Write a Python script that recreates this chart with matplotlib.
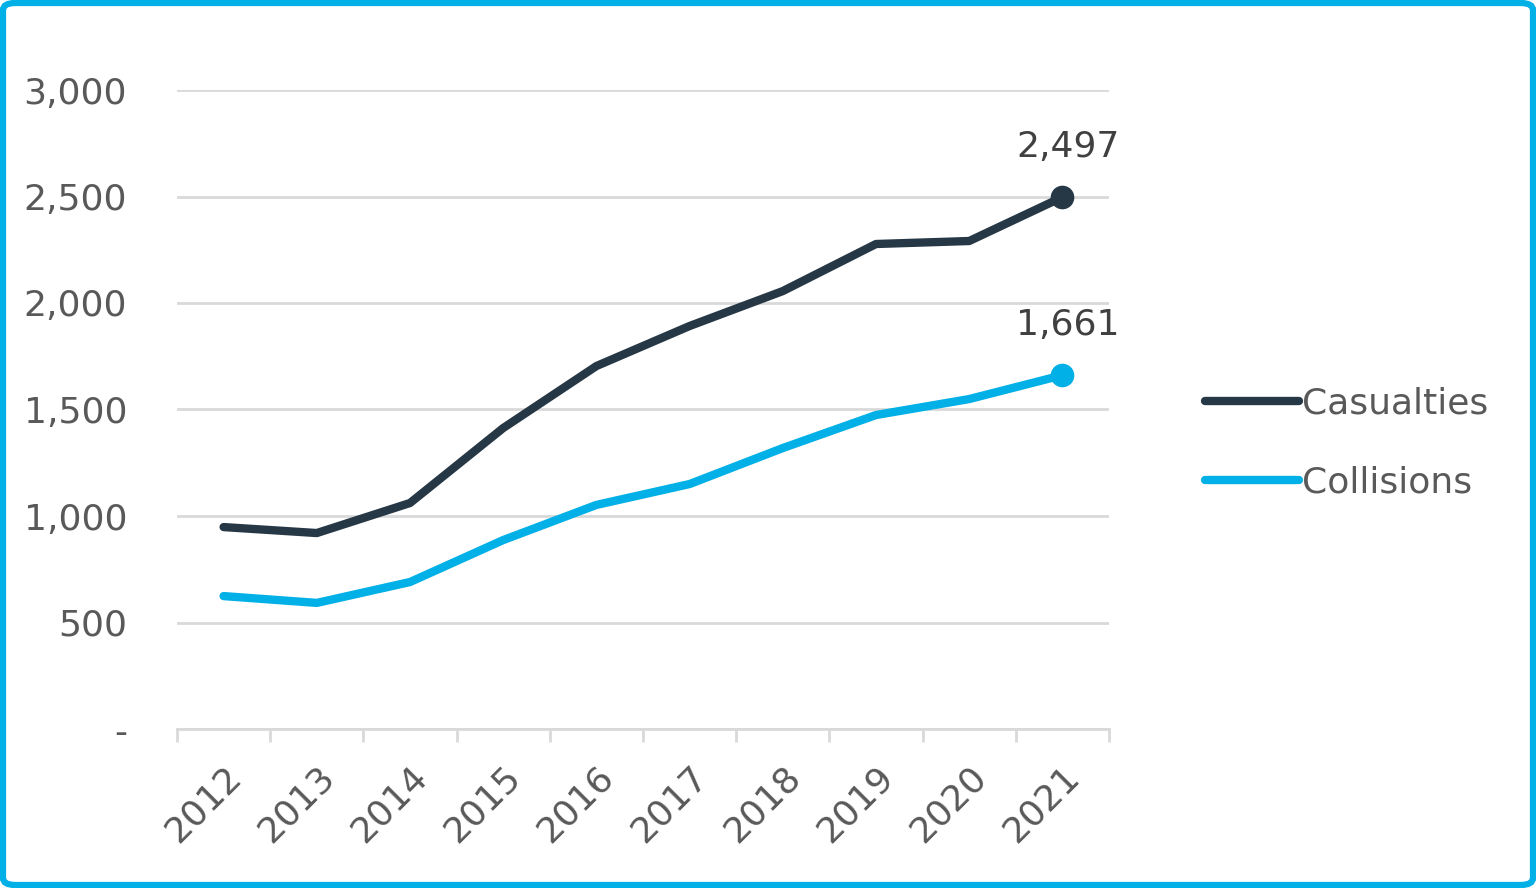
import matplotlib
matplotlib.use("Agg")
import matplotlib.pyplot as plt
from matplotlib.patches import FancyBboxPatch
from matplotlib.ticker import FuncFormatter, FixedLocator

years = ["2012", "2013", "2014", "2015", "2016", "2017", "2018", "2019", "2020", "2021"]
casualties = [948, 920, 1061, 1413, 1704, 1892, 2056, 2277, 2291, 2497]
collisions = [624, 592, 690, 887, 1052, 1150, 1319, 1474, 1549, 1661]
y_ticks = [0, 500, 1000, 1500, 2000, 2500, 3000]

dark = "#263746"
cyan = "#00B0E6"
text_gray = "#595959"
grid_gray = "#D9D9D9"
fs = 26


def fmt(v, pos=None):
    return "-" if v == 0 else f"{int(v):,}"


def main():
    plt.rcParams["font.family"] = ["DejaVu Sans"]
    fig = plt.figure(figsize=(15.36, 8.88), dpi=100)
    ax = fig.add_axes([177 / 1536, 1 - 729 / 888, (1109 - 177) / 1536, (729 - 90) / 888])

    x = list(range(len(years)))
    ax.plot(x, casualties, color=dark, lw=6, solid_capstyle="round", label="Casualties")
    ax.plot(x, collisions, color=cyan, lw=6, solid_capstyle="round", label="Collisions")
    ax.plot(x[-1], casualties[-1], "o", color=dark, ms=16)
    ax.plot(x[-1], collisions[-1], "o", color=cyan, ms=16)
    ax.annotate(fmt(casualties[-1]), (x[-1], casualties[-1]), xytext=(4, 24),
                textcoords="offset points", ha="center", va="bottom",
                fontsize=fs, color="#404040")
    ax.annotate(fmt(collisions[-1]), (x[-1], collisions[-1]), xytext=(4, 24),
                textcoords="offset points", ha="center", va="bottom",
                fontsize=fs, color="#404040")

    ax.set_xlim(-0.5, len(years) - 0.5)
    ax.set_ylim(0, 3000)
    ax.set_yticks(y_ticks)
    ax.yaxis.set_major_formatter(FuncFormatter(fmt))
    ax.grid(axis="y", color=grid_gray, lw=2)
    ax.set_axisbelow(True)
    for s in ["top", "right", "left"]:
        ax.spines[s].set_visible(False)
    ax.spines["bottom"].set_color(grid_gray)
    ax.spines["bottom"].set_linewidth(2)

    ax.set_xticks(x)
    ax.set_xticklabels(years, rotation=45, ha="right", rotation_mode="anchor",
                       fontsize=fs, color=text_gray)
    ax.tick_params(axis="x", length=0, pad=22)
    ax.xaxis.set_minor_locator(FixedLocator([i - 0.5 for i in range(len(years) + 1)]))
    ax.tick_params(axis="x", which="minor", length=9, width=2, color=grid_gray)
    ax.tick_params(axis="y", length=0, pad=36, labelsize=fs, labelcolor=text_gray)

    leg = ax.legend(loc="center left", bbox_to_anchor=(1.068, 0.447), frameon=False,
                    fontsize=fs, handlelength=2.6, handletextpad=0.1, labelspacing=1.25,
                    labelcolor=text_gray)
    for h in leg.get_lines():
        h.set_linewidth(6)

    frame = FancyBboxPatch((3 / 1536, 3 / 888), 1 - 6 / 1536, 1 - 6 / 888,
                           boxstyle="round,pad=0,rounding_size=0.008",
                           transform=fig.transFigure, fill=False, ec=cyan, lw=4.5)
    fig.patches.append(frame)

    fig.savefig("out.png", dpi=100)


if __name__ == "__main__":
    main()
